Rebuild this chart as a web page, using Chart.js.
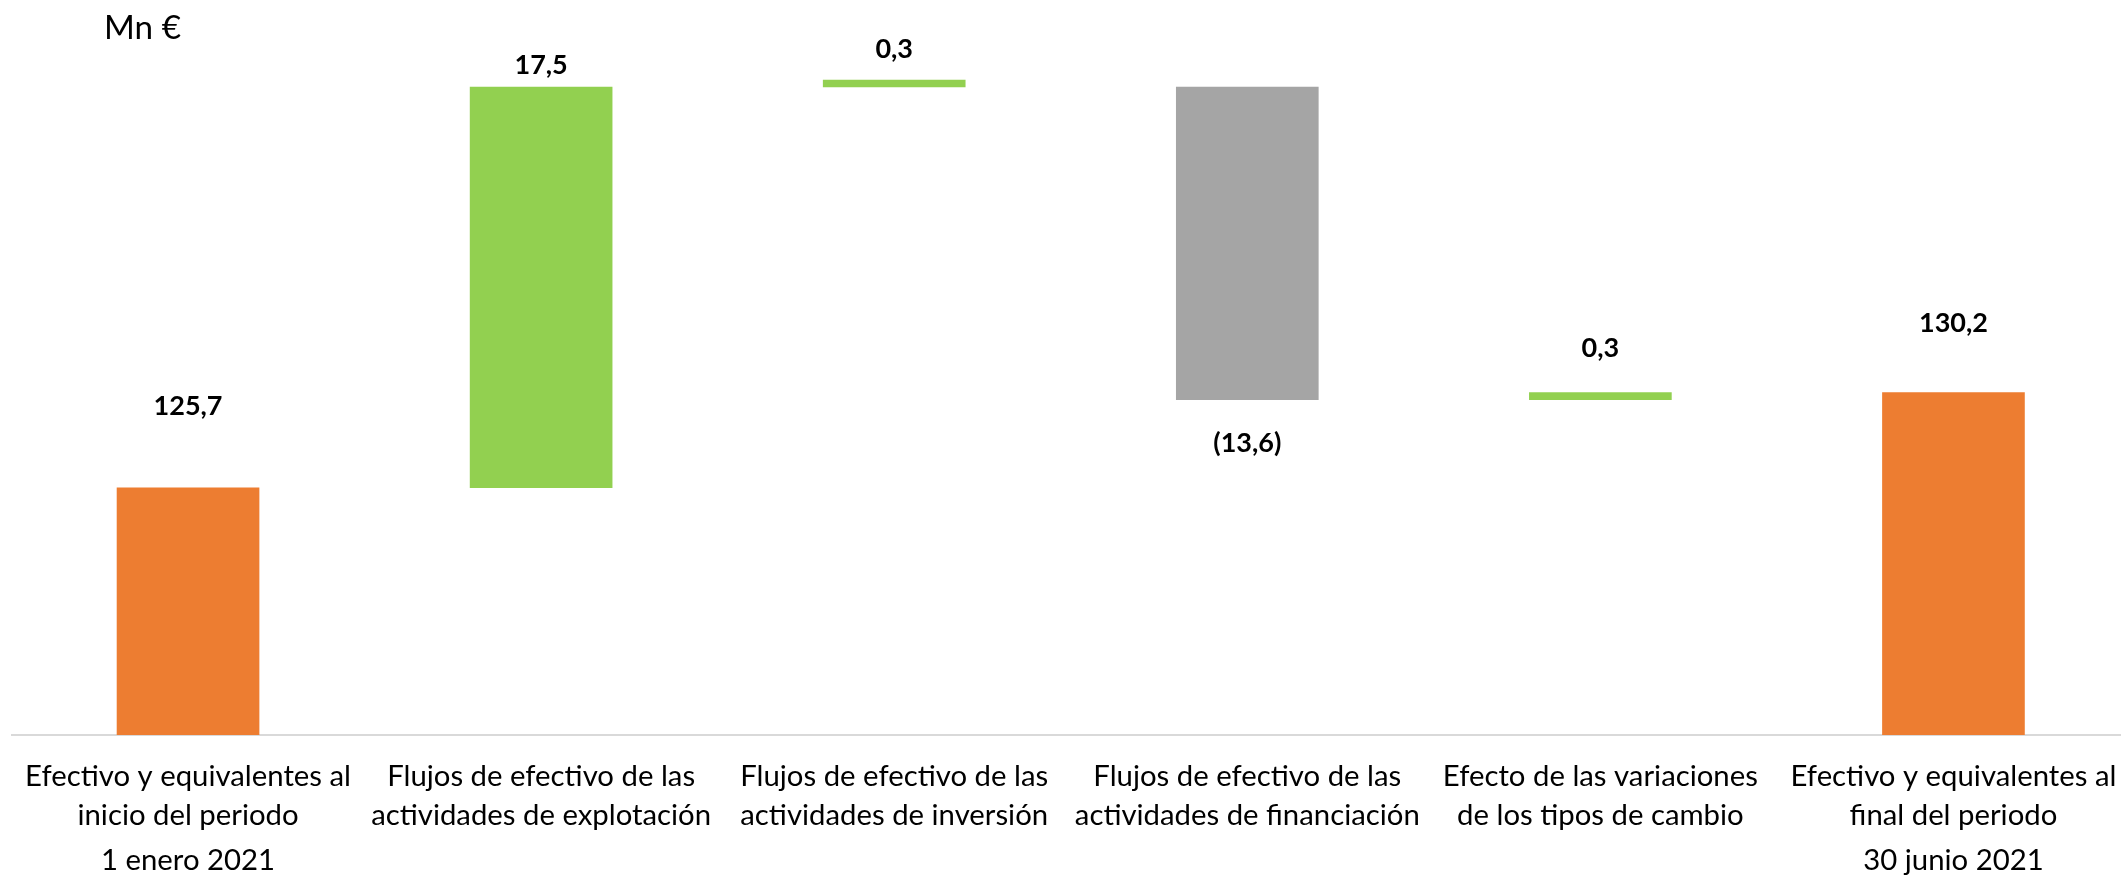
<!DOCTYPE html>
<html>
<head>
<meta charset="utf-8">
<script src="https://cdn.jsdelivr.net/npm/chart.js@4"></script>
<style>
  html, body { margin: 0; padding: 0; background: #ffffff; overflow: hidden; }
  #wrap { position: absolute; left: 0; top: 0; width: 2130px; height: 875px; }
</style>
</head>
<body>
<div id="wrap"><canvas id="c" width="2130" height="875"></canvas></div>
<script>
// ---- data ----
const categories = [
  ["Efectivo y equivalentes al", "inicio del periodo", "1 enero 2021"],
  ["Flujos de efectivo de las", "actividades de explotación"],
  ["Flujos de efectivo de las", "actividades de inversión"],
  ["Flujos de efectivo de las", "actividades de financiación"],
  ["Efecto de las variaciones", "de los tipos de cambio"],
  ["Efectivo y equivalentes al", "final del periodo", "30 junio 2021"]
];
const valueLabels = ["125,7", "17,5", "0,3", "(13,6)", "0,3", "130,2"];
const barLow  = [114.9, 125.7, 143.2, 129.55, 129.55, 114.9];
const barHigh = [125.7, 143.2, 143.5, 143.2, 129.85, 129.85];
const unitLabel = "Mn €";

// ---- styling ----
const barColors = ["#ED7D31", "#92D050", "#92D050", "#A5A5A5", "#92D050", "#ED7D31"];
const labelGap = [73, 13, 22, 52, 36, 61];      // px from bar edge to label baseline
const labelBelow = [false, false, false, true, false, false];
const FAMILY = "Lato, 'Liberation Sans', sans-serif";

const mctx = document.createElement('canvas').getContext('2d');
function fitSize(text, weight, target) {
  mctx.font = weight + " 100px " + FAMILY;
  const w = mctx.measureText(text).width;
  return 100 * target / w;
}
const axisSize = fitSize("Efectivo y equivalentes al", "normal", 326);
const valSize = fitSize("125,7", "bold", 69);
const unitSize = fitSize(unitLabel, "normal", 77);

const labelPlugin = {
  id: 'wfLabels',
  afterDraw(chart) {
    const ctx = chart.ctx;
    const xs = chart.scales.x, ys = chart.scales.y;
    const bottom = chart.chartArea.bottom;
    ctx.save();
    ctx.fillStyle = "#000000";
    // value labels
    ctx.font = "bold " + valSize + "px " + FAMILY;
    ctx.textAlign = "center";
    ctx.textBaseline = "alphabetic";
    valueLabels.forEach((t, i) => {
      const x = xs.getPixelForTick(i);
      const top = ys.getPixelForValue(barHigh[i]);
      const bot = ys.getPixelForValue(barLow[i]);
      const y = labelBelow[i] ? bot + labelGap[i] : top - labelGap[i];
      ctx.fillText(t, x, y);
    });
    // category labels
    ctx.font = "normal " + axisSize + "px " + FAMILY;
    const lineOffsets = [51, 90, 135];
    categories.forEach((lines, i) => {
      const x = xs.getPixelForTick(i);
      lines.forEach((ln, j) => ctx.fillText(ln, x, bottom + lineOffsets[j]));
    });
    // unit label
    ctx.font = "normal " + unitSize + "px " + FAMILY;
    ctx.textAlign = "left";
    ctx.fillText(unitLabel, 104, 39);
    ctx.restore();
  }
};

new Chart(document.getElementById('c'), {
  type: 'bar',
  data: {
    labels: categories.map(c => c.join(" ")),
    datasets: [{
      data: barLow.map((lo, i) => [lo, barHigh[i]]),
      backgroundColor: barColors,
      borderWidth: 0,
      barThickness: 142
    }]
  },
  options: {
    responsive: false,
    animation: false,
    events: [],
    layout: { padding: { left: 11.5, right: 0, top: 0, bottom: 0 } },
    plugins: { legend: { display: false }, tooltip: { enabled: false } },
    scales: {
      x: {
        grid: { display: false },
        ticks: { display: false },
        border: { display: true, color: "#D9D9D9", width: 2 },
        afterFit(s) { s.height = 140; }
      },
      y: { display: false, min: 114.9, max: 147.0 }
    }
  },
  plugins: [labelPlugin]
});
</script>
</body>
</html>
